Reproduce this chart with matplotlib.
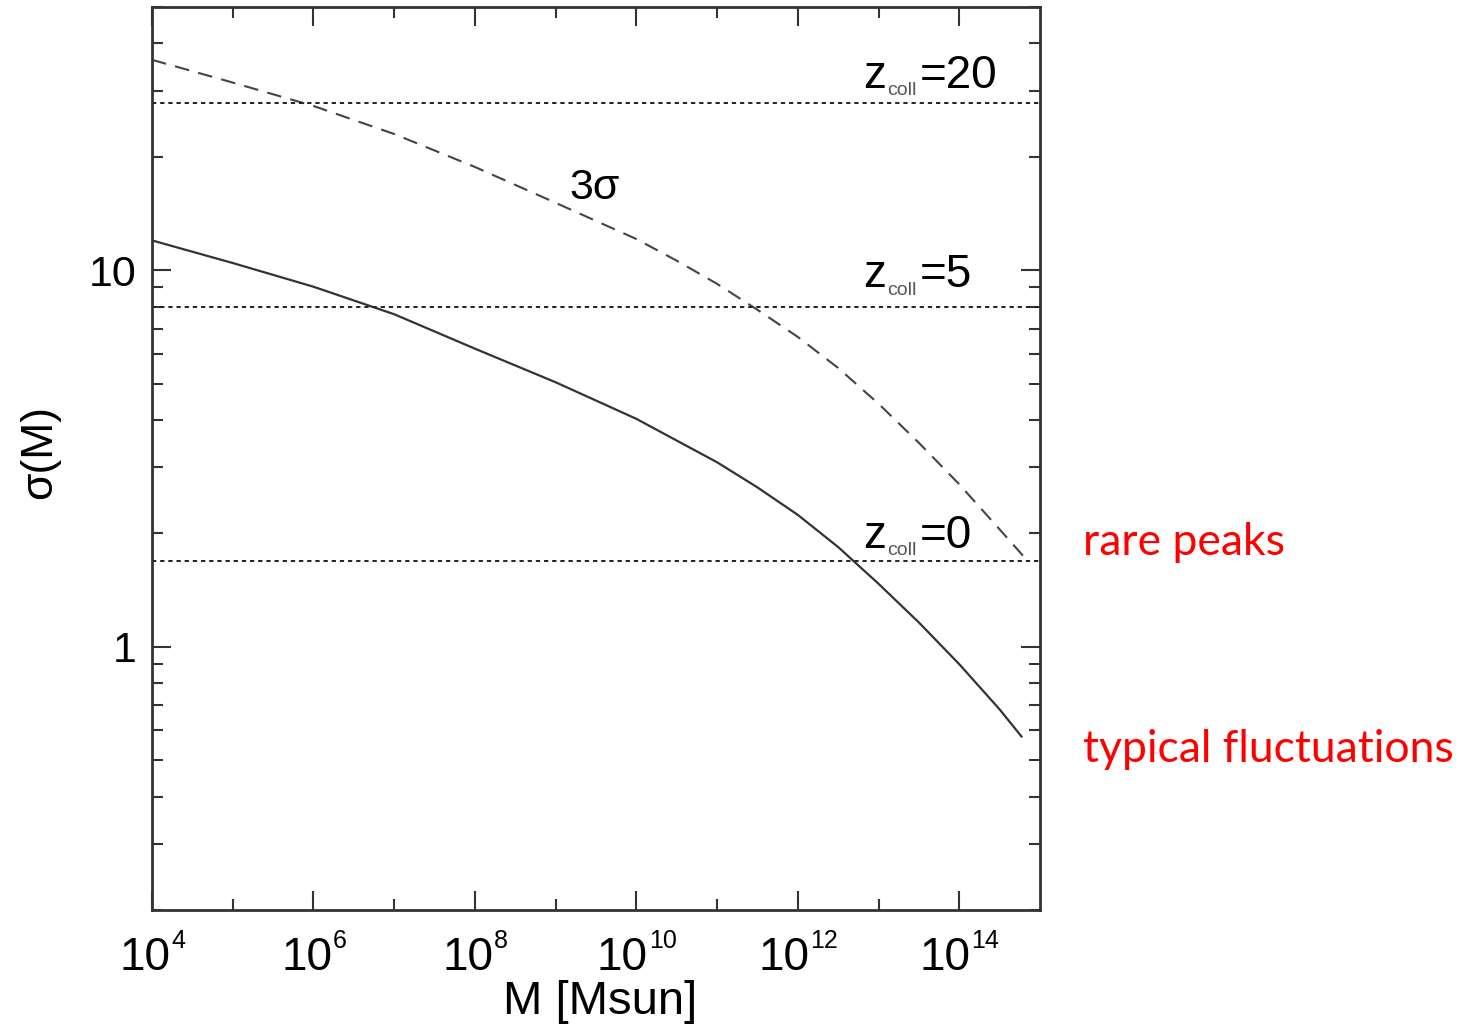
import numpy as np
import matplotlib
matplotlib.use('Agg')
import matplotlib.pyplot as plt
from matplotlib.ticker import LogLocator, FixedLocator, NullFormatter, FuncFormatter

plt.rcParams['font.family'] = 'Liberation Sans'

### DATA
# sigma(M) curve, log10(M/Msun) vs sigma
logm_sigma = [4.0, 5.0, 6.0, 7.0, 8.0, 9.0, 10.0, 11.0, 11.5, 12.0, 12.5, 13.0, 13.5, 14.0, 14.5, 14.77]
sigma = [12.0, 10.45, 9.04, 7.64, 6.19, 5.04, 4.03, 3.09, 2.65, 2.24, 1.84, 1.47, 1.16, 0.899, 0.682, 0.578]
# 3 sigma curve
logm_3sig = [4.0, 5.0, 6.0, 7.0, 8.0, 9.0, 10.0, 10.5, 11.0, 11.5, 12.0, 12.5, 13.0, 13.5, 14.0, 14.5, 14.8]
three_sigma = [36.2, 31.5, 27.3, 23.0, 18.8, 15.1, 12.1, 10.6, 9.2, 7.85, 6.65, 5.5, 4.42, 3.48, 2.70, 2.05, 1.735]
# collapse thresholds
z_coll = ['20', '5', '0']
delta_c = [27.8, 7.97, 1.69]
label_y = [30.5, 9.0, 1.834]
# axis ticks
x_major_exp = [4, 6, 8, 10, 12, 14]
x_minor_exp = [5, 7, 9, 11, 13]

fig = plt.figure(figsize=(14.7, 10.31), dpi=100)
ax = fig.add_axes([152/1470, 1-910/1031, 888/1470, 903/1031])

ax.plot(10**np.array(logm_sigma), sigma, color='#333333', lw=1.6)
ax.plot(10**np.array(logm_3sig), three_sigma, color='#444444', lw=1.5, linestyle=(0, (7, 4.5)))
for d in delta_c:
    ax.axhline(d, color='#222222', lw=1.4, linestyle=(0, (2.2, 2.0)))

ax.set_xscale('log')
ax.set_yscale('log')
ax.set_xlim(1e4, 1e15)
ax.set_ylim(0.2, 50)

# ticks
ax.xaxis.set_major_locator(FixedLocator([10.0**e for e in x_major_exp]))
ax.xaxis.set_minor_locator(FixedLocator([10.0**e for e in x_minor_exp]))
ax.xaxis.set_major_formatter(NullFormatter())
ax.xaxis.set_minor_formatter(NullFormatter())
ax.yaxis.set_major_locator(FixedLocator([1, 10]))
ax.yaxis.set_minor_locator(LogLocator(base=10, subs=np.arange(2, 10), numticks=20))
ax.yaxis.set_major_formatter(FuncFormatter(lambda v, p: '%g' % v))
ax.yaxis.set_minor_formatter(NullFormatter())

ax.tick_params(which='both', direction='in', top=True, right=True, color='#333333', width=1.5)
ax.tick_params(which='major', length=13.5)
ax.tick_params(which='minor', length=8)
ax.tick_params(axis='y', which='major', labelsize=31, pad=11)
for s in ax.spines.values():
    s.set_linewidth(2.0)
    s.set_color('#333333')

# x tick labels: 10 with a small exponent
base_fs, exp_fs = 33, 18
for e in x_major_exp:
    w_base = 1.112 * base_fs
    w_exp = 0.556 * exp_fs * len(str(e))
    x0 = -(w_base + w_exp) / 2
    ax.annotate('10', xy=(10.0**e, 0), xycoords=('data', 'axes fraction'),
                xytext=(x0, -43.2), textcoords='offset points',
                fontsize=base_fs, ha='left', va='baseline')
    ax.annotate(str(e), xy=(10.0**e, 0), xycoords=('data', 'axes fraction'),
                xytext=(x0 + w_base + 0.5, -27.4), textcoords='offset points',
                fontsize=exp_fs, ha='left', va='baseline')

ax.set_xlabel('M [Msun]', fontsize=34)
ax.xaxis.set_label_coords(0.5045, -0.077)
ax.set_ylabel('\u03c3(M)', fontsize=32)
ax.yaxis.set_label_coords(-0.1036, 0.507)

# annotations
for z, y in zip(z_coll, label_y):
    ax.annotate('z', xy=(10**12.81, y), xytext=(0, 0), textcoords='offset points',
                fontsize=33, ha='left', va='baseline')
    ax.annotate('coll', xy=(10**12.81, y), xytext=(17.5, -5.5), textcoords='offset points',
                fontsize=14, ha='left', va='baseline', color='#555555')
    ax.annotate('=' + z, xy=(10**12.81, y), xytext=(40.5, 0), textcoords='offset points',
                fontsize=33, ha='left', va='baseline')

ax.text(10**9.17, 15.45, '3\u03c3', fontsize=31, ha='left', va='baseline')

fig.text(1083/1470, 1-555/1031, 'rare peaks', color='red', fontsize=32,
         family='Lato', ha='left', va='baseline')
fig.text(1083/1470, 1-762/1031, 'typical fluctuations', color='red', fontsize=32,
         family='Lato', ha='left', va='baseline')

fig.savefig('out.png', dpi=100)
